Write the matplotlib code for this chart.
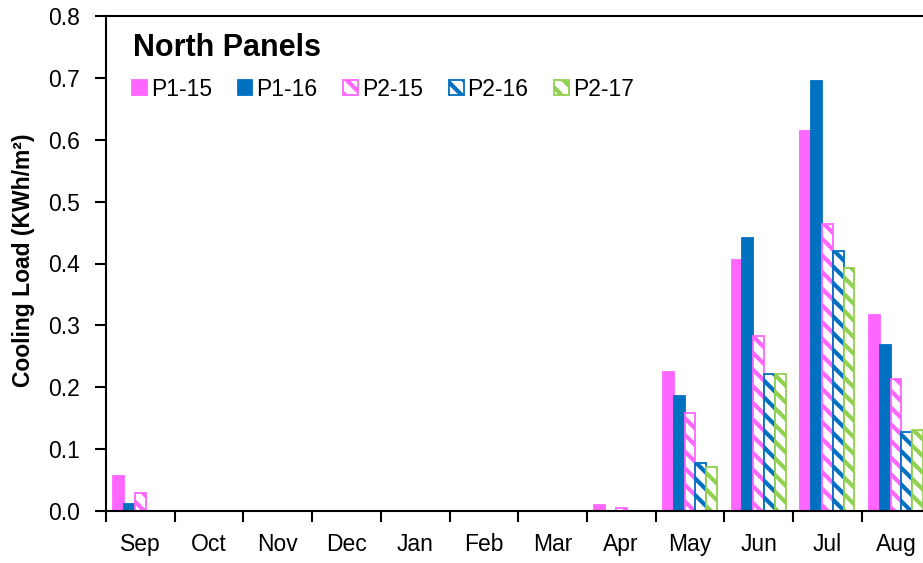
import matplotlib
matplotlib.use("Agg")
import matplotlib.pyplot as plt
import numpy as np
from matplotlib.patches import Patch

plt.rcParams['font.family'] = ['Liberation Sans', 'DejaVu Sans']
plt.rcParams['hatch.linewidth'] = 3.0

months = ["Sep", "Oct", "Nov", "Dec", "Jan", "Feb", "Mar", "Apr", "May", "Jun", "Jul", "Aug"]
series_names = ["P1-15", "P1-16", "P2-15", "P2-16", "P2-17"]
p1_15 = [0.057, 0, 0, 0, 0, 0, 0, 0.010, 0.225, 0.405, 0.614, 0.316]
p1_16 = [0.011, 0, 0, 0, 0, 0, 0, 0, 0.186, 0.441, 0.695, 0.269]
p2_15 = [0.029, 0, 0, 0, 0, 0, 0, 0.005, 0.159, 0.283, 0.464, 0.213]
p2_16 = [0, 0, 0, 0, 0, 0, 0, 0, 0.078, 0.221, 0.421, 0.127]
p2_17 = [0, 0, 0, 0, 0, 0, 0, 0, 0.071, 0.221, 0.392, 0.131]

pink = "#FF66FF"
blue = "#0070C0"
green = "#92D050"
styles = [
    dict(facecolor=pink, edgecolor=pink, hatch=None),
    dict(facecolor=blue, edgecolor=blue, hatch=None),
    dict(facecolor="white", edgecolor=pink, hatch="\\\\"),
    dict(facecolor="white", edgecolor=blue, hatch="\\\\"),
    dict(facecolor="white", edgecolor=green, hatch="\\\\"),
]
data = [p1_15, p1_16, p2_15, p2_16, p2_17]

fig = plt.figure(figsize=(9.23, 5.63), dpi=100)
ax = fig.add_axes([106/923, 1-511/563, 1-106/923, (511-16)/563])

x = np.arange(len(months))
w = 0.157
handles = []
for i, (vals, st, name) in enumerate(zip(data, styles, series_names)):
    xs = x + (i - 2) * w
    vals_arr = np.array(vals)
    mask = vals_arr > 0
    ax.bar(xs[mask], vals_arr[mask], width=w, facecolor=st['facecolor'],
           edgecolor=st['edgecolor'], hatch=st['hatch'], linewidth=1.3, zorder=2)
    handles.append(Patch(facecolor=st['facecolor'], edgecolor=st['edgecolor'],
                         hatch=st['hatch'], linewidth=1.3, label=name))

ax.set_yticks(np.arange(0, 0.81, 0.1))
ax.set_yticklabels([f"{v:.1f}" for v in np.arange(0, 0.81, 0.1)])
ax.set_xticks(x)
ax.set_xticklabels(months)
ax.set_xticks(np.arange(-0.5, 12, 1), minor=True)
ax.set_ylim(0, 0.8)
ax.set_xlim(-0.5, -0.5 + 817/68.7)
ax.tick_params(axis='x', which='major', length=0, pad=15.5, labelsize=16.5)
ax.tick_params(axis='x', which='minor', length=8, width=1.5, direction='out')
ax.tick_params(axis='y', length=8, width=1.5, direction='out', labelsize=16.5, pad=11)
for s in ['left', 'bottom', 'top']:
    ax.spines[s].set_linewidth(1.5)
ax.spines['right'].set_visible(False)

ax.set_ylabel("Cooling Load (KWh/m²)", fontsize=16.5, fontweight='bold')
ax.yaxis.set_label_coords(-0.087, 0.506)

fig.text(133/923, 1-56/563, "North Panels", fontsize=22, fontweight='bold',
         va='baseline', ha='left')
leg = ax.legend(handles=handles, ncol=5, frameon=False, fontsize=16.5,
                loc='center left', bbox_to_anchor=(132/923, 1-89/563),
                bbox_transform=fig.transFigure, handlelength=0.65, handleheight=0.65,
                handletextpad=0.17, columnspacing=1.12, borderaxespad=0, borderpad=0)

fig.savefig("out.png", dpi=100)
